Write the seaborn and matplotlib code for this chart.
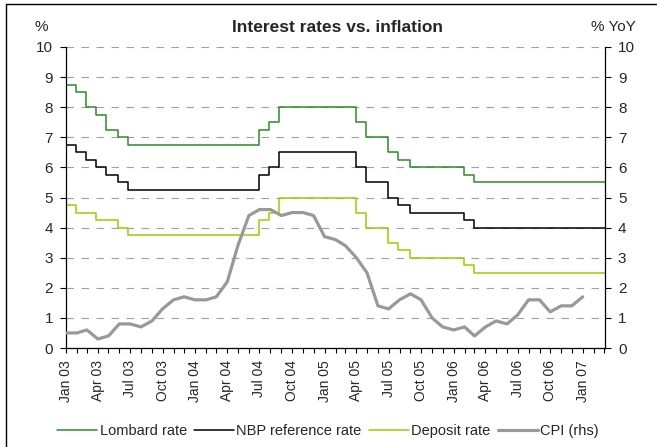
import pandas as pd
import seaborn as sns
import matplotlib.pyplot as plt
import matplotlib.dates as mdates
from matplotlib.lines import Line2D

# NBP rate decision dates (first entry = start of chart)
change_dates = ['2003-01-01', '2003-01-29', '2003-02-26', '2003-03-26', '2003-04-24',
                '2003-05-29', '2003-06-26', '2004-06-30', '2004-07-29', '2004-08-26',
                '2005-03-31', '2005-04-28', '2005-06-30', '2005-07-28', '2005-08-31',
                '2006-01-31', '2006-02-28']
end_date = '2007-03-05'

lombard = [8.75, 8.5, 8.0, 7.75, 7.25, 7.0, 6.75, 7.25, 7.5, 8.0,
           7.5, 7.0, 6.5, 6.25, 6.0, 5.75, 5.5]
reference = [6.75, 6.5, 6.25, 6.0, 5.75, 5.5, 5.25, 5.75, 6.0, 6.5,
             6.0, 5.5, 5.0, 4.75, 4.5, 4.25, 4.0]
deposit = [4.75, 4.5, 4.5, 4.25, 4.25, 4.0, 3.75, 4.25, 4.5, 5.0,
           4.5, 4.0, 3.5, 3.25, 3.0, 2.75, 2.5]

# CPI % YoY, monthly Jan 2003 - Jan 2007
cpi = [0.5, 0.5, 0.6, 0.3, 0.4, 0.8, 0.8, 0.7, 0.9, 1.3, 1.6, 1.7,
       1.6, 1.6, 1.7, 2.2, 3.4, 4.4, 4.6, 4.6, 4.4, 4.5, 4.5, 4.4,
       3.7, 3.6, 3.4, 3.0, 2.5, 1.4, 1.3, 1.6, 1.8, 1.6, 1.0, 0.7,
       0.6, 0.7, 0.4, 0.7, 0.9, 0.8, 1.1, 1.6, 1.6, 1.2, 1.4, 1.4,
       1.7]
cpi_months = pd.date_range('2003-01-01', periods=len(cpi), freq='MS')

labels = ['Lombard rate', 'NBP reference rate', 'Deposit rate', 'CPI (rhs)']
colors = ['#2a8c2a', '#000000', '#99cc00', '#999999']

rates = pd.DataFrame({
    'date': pd.to_datetime(change_dates + [end_date]),
    'Lombard rate': lombard + [lombard[-1]],
    'NBP reference rate': reference + [reference[-1]],
    'Deposit rate': deposit + [deposit[-1]],
})
cpi_df = pd.DataFrame({'date': cpi_months, 'CPI': cpi})

sns.set_style('white')
plt.rcParams['font.family'] = ['Liberation Sans', 'DejaVu Sans']
plt.rcParams['lines.scale_dashes'] = False

fig = plt.figure(figsize=(6.57, 4.47), dpi=100)
ax = fig.add_axes([66 / 657, 1 - 348 / 447, (605 - 66) / 657, (348 - 47) / 447])
ax2 = ax.twinx()

for name, c in zip(labels[:3], colors[:3]):
    sns.lineplot(data=rates, x='date', y=name, ax=ax, color=c, lw=1.1,
                 drawstyle='steps-post', legend=False)
sns.lineplot(data=cpi_df, x='date', y='CPI', ax=ax2, color=colors[3], lw=2.3,
             legend=False)

for a in (ax, ax2):
    a.set_ylim(0, 10)
    a.set_yticks(range(0, 11))
    a.set_xlabel('')
    a.set_ylabel('')
    a.tick_params(axis='y', direction='out', length=4.3, width=0.8, pad=5,
                  labelsize=11, color='black')
ax.set_xlim(pd.Timestamp('2003-01-01'), pd.Timestamp(end_date))

ax.yaxis.grid(True, color='#a0a0a0', linestyle=(0, (5.4, 5.4)), linewidth=0.8)
ax.set_axisbelow(True)

ax.xaxis.set_major_locator(mdates.MonthLocator(bymonth=[1, 4, 7, 10]))
ax.xaxis.set_major_formatter(mdates.DateFormatter('%b %y'))
ax.xaxis.set_minor_locator(mdates.MonthLocator())
ax.tick_params(axis='x', which='both', direction='out', length=3.6, width=0.8,
               labelsize=10, pad=5, color='black', bottom=True)
plt.setp(ax.get_xticklabels(), rotation=90)

for s in ('top', 'right'):
    ax.spines[s].set_visible(False)
for s in ('top', 'left', 'bottom'):
    ax2.spines[s].set_visible(False)
for sp in (ax.spines['left'], ax.spines['bottom'], ax2.spines['right']):
    sp.set_color('black')
    sp.set_linewidth(0.9)

fig.text(337 / 657, 1 - 27 / 447, 'Interest rates vs. inflation', ha='center',
         va='center', fontsize=12.5, fontweight='bold')
fig.text(41 / 657, 1 - 27 / 447, '%', ha='center', va='center', fontsize=11)
fig.text(613 / 657, 1 - 27 / 447, '% YoY', ha='center', va='center', fontsize=11)

handles = [Line2D([], [], color=c, lw=lw) for c, lw in zip(colors, [1.1, 1.1, 1.1, 2.3])]
fig.legend(handles, labels, loc='center', bbox_to_anchor=(328 / 657, 1 - 431 / 447),
           ncol=4, frameon=False, fontsize=10.5, handlelength=2.75,
           handletextpad=0.15, columnspacing=0.5)

# outer chart border (top and left edges visible in the reference)
fig.add_artist(Line2D([6 / 657, 6 / 657], [0, 1 - 4 / 447], transform=fig.transFigure,
                      color='black', lw=1))
fig.add_artist(Line2D([6 / 657, 1], [1 - 4 / 447, 1 - 4 / 447], transform=fig.transFigure,
                      color='black', lw=1))

fig.savefig('out.png', dpi=100)
